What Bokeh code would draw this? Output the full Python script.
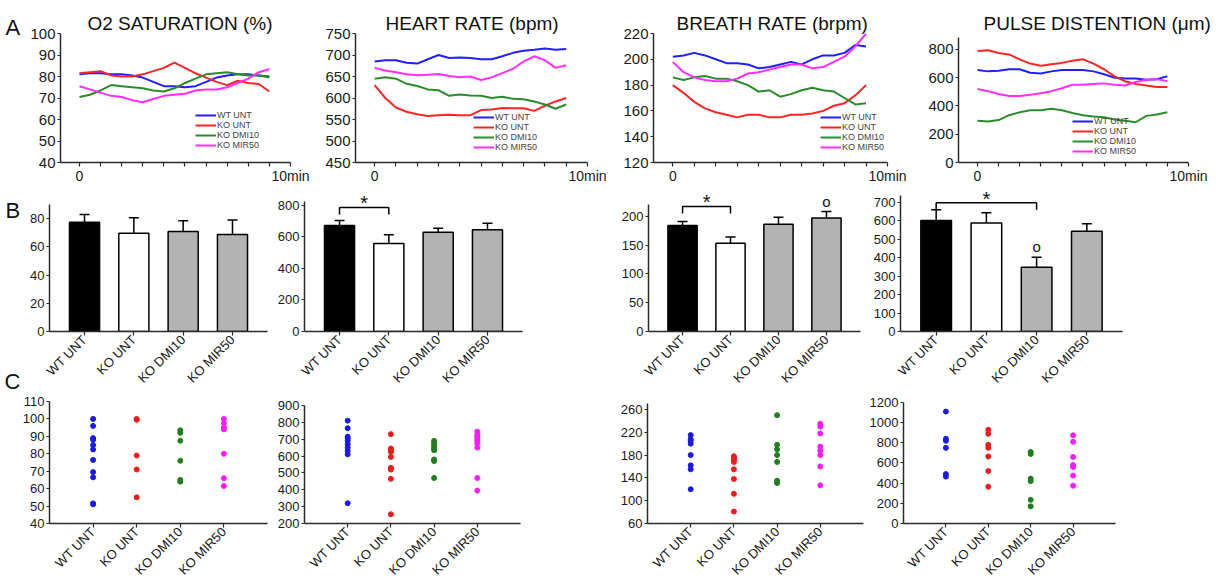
import math
from bokeh.plotting import figure
from bokeh.models import (Range1d, FixedTicker, Label, Legend, LegendItem, Whisker,
                          TeeHead, ColumnDataSource)
from bokeh.layouts import row, column
from bokeh.embed import file_html
from bokeh.resources import INLINE

# ---------------- data ----------------
groups = ["WT UNT", "KO UNT", "KO DMI10", "KO MIR50"]

time_min = [0, 0.5, 1, 1.5, 2, 2.5, 3, 3.5, 4, 4.5, 5, 5.5, 6, 6.5, 7, 7.5, 8, 8.5, 9]

# A: time courses
o2_wt = [81, 81.5, 81.5, 81, 81, 80.5, 79.5, 77.5, 75.5, 75.5, 75, 75.5, 77.5, 79.5, 80.5, 81, 81, 80.5, 80]
o2_ko = [81.5, 82, 82.5, 80.5, 80, 80, 81, 82.5, 84, 86.5, 84, 81.5, 79.5, 77.5, 76, 78, 77, 76.5, 73]
o2_dmi = [70.5, 71.5, 73.5, 76, 75.5, 75, 74.5, 73.5, 73, 74.5, 77, 79, 81, 81.5, 82, 81, 80.5, 80.5, 79.5]
o2_mir = [75.5, 74, 72.5, 71, 70.5, 69, 68, 69.5, 71, 71.5, 72, 73.5, 74, 74, 75, 77, 79, 82, 83.5]

hr_wt = [685, 688, 688, 682, 680, 690, 700, 693, 694, 693, 690, 690, 697, 705, 710, 712, 715, 712, 714]
hr_ko = [630, 600, 578, 568, 562, 558, 560, 561, 560, 560, 572, 573, 577, 576, 576, 570, 582, 592, 600]
hr_dmi = [645, 648, 645, 633, 628, 620, 618, 605, 608, 606, 605, 600, 603, 598, 597, 592, 585, 575, 585]
hr_mir = [670, 664, 660, 655, 653, 654, 656, 651, 648, 650, 642, 648, 658, 668, 685, 697, 688, 670, 676]

br_wt = [202, 203, 205, 203, 200, 197, 197, 196, 193, 194, 196, 198, 196, 200, 203, 203, 205, 211, 210]
br_ko = [180, 174, 167, 162, 159, 157, 155, 157, 157, 155, 155, 157, 157, 158, 160, 164, 166, 172, 180]
br_dmi = [186, 184, 186, 187, 185, 185, 183, 180, 175, 176, 171, 173, 176, 178, 176, 175, 170, 165, 166]
br_mir = [198, 190, 186, 184, 183, 183, 185, 189, 190, 192, 194, 196, 196, 193, 194, 198, 202, 210, 220]

pd_wt = [655, 645, 650, 660, 660, 635, 630, 645, 655, 655, 655, 645, 625, 600, 595, 595, 585, 590, 610]
pd_ko = [790, 795, 775, 765, 730, 700, 685, 695, 705, 720, 730, 700, 660, 610, 575, 555, 545, 535, 535]
pd_dmi = [295, 290, 300, 335, 355, 370, 370, 380, 370, 350, 335, 325, 320, 305, 295, 285, 330, 340, 355]
pd_mir = [520, 505, 485, 470, 470, 480, 490, 505, 525, 550, 550, 555, 560, 550, 545, 570, 585, 590, 575]

# B: means and SEM
o2_mean = [77.4, 69.6, 70.8, 68.7]
o2_sem = [5.4, 10.9, 7.6, 10.2]
hr_mean = [673, 559, 630, 646]
hr_sem = [32, 55, 26, 42]
br_mean = [184, 153, 186, 197]
br_sem = [7, 11, 12, 11]
pd_mean = [601, 588, 348, 543]
pd_sem = [58, 55, 54, 40]

# C: individual animals
o2_pts = [[100, 96, 89, 88, 85, 82.5, 76.5, 69.5, 66.5, 51.5, 51],
          [100, 99.5, 79, 71, 55],
          [93.5, 92, 87.5, 76, 65, 64],
          [100, 97.5, 95, 94, 80, 66, 61.5]]
hr_pts = [[810, 765, 715, 705, 690, 670, 650, 630, 610, 320],
          [730, 645, 635, 625, 595, 530, 520, 465, 255],
          [690, 675, 660, 645, 635, 580, 570, 470],
          [745, 725, 715, 700, 690, 675, 650, 470, 395]]
br_pts = [[215, 208, 205, 200, 180, 162, 155, 120],
          [178, 175, 172, 168, 155, 138, 112, 81],
          [250, 198, 190, 180, 168, 135, 131],
          [235, 230, 218, 195, 188, 180, 160, 127]]
pd_pts = [[1110, 840, 820, 750, 490, 465],
          [930, 890, 780, 750, 665, 520, 365],
          [710, 690, 445, 420, 235, 170],
          [875, 810, 660, 580, 560, 475, 375]]

# ---------------- style ----------------
FONT = "Liberation Sans"
series_colors = ["#1f1fff", "#ff2424", "#2a8c2a", "#ff2cff"]
dot_colors = ["#1a1ae6", "#f01c1c", "#1f7f1f", "#ff1aff"]
bar_fills = ["#000000", "#ffffff", "#b3b3b3", "#b3b3b3"]
AXC = "#2a2a2a"


def base_fig(cell, frame, xr, yr, tick_font, ybounds=None):
    cl, ct, cr, cb = cell
    fl, ft, fr, fb = frame
    p = figure(width=cr - cl, height=cb - ct,
               x_range=Range1d(*xr), y_range=Range1d(*yr),
               min_border_left=fl - cl, min_border_right=cr - fr,
               min_border_top=ft - ct, min_border_bottom=cb - fb,
               output_backend="svg", toolbar_location=None, tools="")
    p.outline_line_color = None
    p.xgrid.visible = False
    p.ygrid.visible = False
    p.background_fill_color = "white"
    p.border_fill_color = "white"
    for ax in (p.xaxis[0], p.yaxis[0]):
        ax.axis_line_width = 1.5
        ax.axis_line_color = AXC
        ax.major_tick_line_color = AXC
        ax.major_tick_line_width = 1.2
        ax.minor_tick_line_color = AXC
        ax.minor_tick_line_width = 1.2
        ax.major_tick_in = 0
        ax.major_tick_out = 3
        ax.minor_tick_in = 0
        ax.minor_tick_out = 0
        ax.major_label_text_font = FONT
        ax.major_label_text_font_size = tick_font
        ax.major_label_text_color = "#1a1a1a"
        ax.major_label_standoff = 2
    if ybounds is not None:
        p.yaxis.bounds = ybounds
    return p


def text_label(p, x, y, text, size, align="left"):
    p.add_layout(Label(x=x, y=y, text=text, text_font=FONT, text_font_size=size,
                       text_align=align, text_baseline="middle", text_color="#111111"))


def panel_a(cell, frame, yr, ybounds, yticks, title, title_off, series, legend_at):
    xr = (-0.9, 10)
    p = base_fig(cell, frame, xr, yr, "15px", ybounds)
    p.xaxis.major_label_text_font_size = "14px"
    p.title.text = title
    p.title.align = "left"
    p.title.offset = title_off
    p.title.standoff = 0
    p.title.text_font = FONT
    p.title.text_font_size = "19px"
    p.title.text_font_style = "normal"
    p.title.text_color = "#111111"
    p.yaxis.ticker = FixedTicker(ticks=yticks)
    p.xaxis.ticker = FixedTicker(ticks=[0, 10], minor_ticks=[1, 2, 3, 4, 5, 6, 7, 8, 9])
    p.xaxis.major_label_overrides = {10: "10min"}
    p.xaxis.major_tick_out = 4
    p.xaxis.minor_tick_out = 4
    p.xaxis.major_label_standoff = 1
    items = []
    for name, ys, col in zip(groups, series, series_colors):
        r = p.line(time_min, ys, line_color=col, line_width=2)
        items.append(LegendItem(label=name, renderers=[r]))
    leg = Legend(items=items, location=legend_at, padding=0, margin=0, spacing=-3,
                 label_text_font=FONT, label_text_font_size="9px", label_height=6,
                 glyph_height=6, glyph_width=21, label_standoff=1,
                 background_fill_alpha=0, border_line_alpha=0)
    p.add_layout(leg)
    return p


def panel_b(cell, frame, yr, ybounds, yticks, means, sems, sig=None, marks=()):
    xr = (-0.71, 3.71)
    p = base_fig(cell, frame, xr, yr, "13px", ybounds)
    xs = list(range(len(groups)))
    tops = [m + s for m, s in zip(means, sems)]
    src = ColumnDataSource(dict(x=xs, top=means, err=tops, fill=bar_fills))
    p.vbar(x="x", top="top", width=0.61, source=src, fill_color="fill",
           line_color="black", line_width=1.5)
    p.add_layout(Whisker(source=src, base="x", lower="top", upper="err", dimension="height",
                         line_color="black", line_width=1.5,
                         upper_head=TeeHead(size=10, line_width=1.5, line_color="black"),
                         lower_head=None))
    p.yaxis.ticker = FixedTicker(ticks=yticks)
    p.xaxis.ticker = FixedTicker(ticks=xs)
    p.xaxis.major_label_overrides = {i: g for i, g in enumerate(groups)}
    p.xaxis.major_label_orientation = math.pi / 4
    p.xaxis.major_tick_out = 4
    upp = (yr[1] - yr[0]) / (frame[3] - frame[1])
    if sig is not None:
        a, b, gap = sig
        yb = max(tops[a:b + 1]) + gap * upp
        p.line([a, a, b, b], [yb - 7 * upp, yb, yb, yb - 7 * upp],
               line_color="black", line_width=1.5)
        text_label(p, (a + b) / 2, yb + 4 * upp, "*", "20px", "center")
    for i in marks:
        text_label(p, i, tops[i] + 10.5 * upp, "o", "15px", "center")
    return p


def panel_c(cell, frame, yr, ybounds, yticks, pts):
    xr = (-1, 4)
    p = base_fig(cell, frame, xr, yr, "13px", ybounds)
    for i, (vals, col) in enumerate(zip(pts, dot_colors)):
        p.scatter([i] * len(vals), vals, size=5, marker="circle",
                  fill_color=col, line_color=col)
    p.yaxis.ticker = FixedTicker(ticks=yticks)
    p.xaxis.ticker = FixedTicker(ticks=list(range(len(groups))))
    p.xaxis.major_label_overrides = {i: g for i, g in enumerate(groups)}
    p.xaxis.major_label_orientation = math.pi / 4
    p.xaxis.major_tick_out = 4
    return p


# ---------------- row A ----------------
a1 = panel_a((22, 0, 315, 186), (60, 33, 290, 162), (40, 100), None,
             [40, 50, 60, 70, 80, 90, 100], "O2 SATURATION (%)", 27,
             [o2_wt, o2_ko, o2_dmi, o2_mir], (135, 12))
a2 = panel_a((315, 0, 612, 186), (355, 33, 587, 162), (450, 750), None,
             [450, 500, 550, 600, 650, 700, 750], "HEART RATE (bpm)", 30,
             [hr_wt, hr_ko, hr_dmi, hr_mir], (118, 10))
a3 = panel_a((612, 0, 912, 186), (653, 33, 887, 162), (120, 220), None,
             [120, 140, 160, 180, 200, 220], "BREATH RATE (brpm)", 23,
             [br_wt, br_ko, br_dmi, br_mir], (167, 10))
a4 = panel_a((912, 0, 1216, 186), (958, 33, 1188, 162), (0, 913), (0, 885),
             [0, 200, 400, 600, 800], "PULSE DISTENTION (\u03bcm)", 25,
             [pd_wt, pd_ko, pd_dmi, pd_mir], (114, 6))

# ---------------- row B ----------------
b1 = panel_b((22, 186, 270, 394), (49, 186, 267, 331), (0, 102.7), (0, 90),
             [0, 20, 40, 60, 80], o2_mean, o2_sem)
b2 = panel_b((270, 186, 600, 394), (304, 186, 522, 331), (0, 920.6), (0, 825),
             [0, 200, 400, 600, 800], hr_mean, hr_sem, sig=(0, 1, 13))
b3 = panel_b((600, 186, 870, 394), (648, 186, 860, 331), (0, 251.5), (0, 220),
             [0, 50, 100, 150, 200], br_mean, br_sem, sig=(0, 1, 15), marks=(3,))
b4 = panel_b((870, 186, 1216, 394), (900, 186, 1122, 331), (0, 785), (0, 736),
             [0, 100, 200, 300, 400, 500, 600, 700], pd_mean, pd_sem,
             sig=(0, 2, 7), marks=(2,))

# ---------------- panel letters ----------------
letters = figure(width=22, height=394, x_range=Range1d(0, 22), y_range=Range1d(394, 0),
                 min_border_left=0, min_border_right=0, min_border_top=0, min_border_bottom=0,
                 output_backend="svg", toolbar_location=None, tools="")
letters.axis.visible = False
letters.grid.visible = False
letters.outline_line_color = None
text_label(letters, 5, 27, "A", "22px")
text_label(letters, 5, 210, "B", "22px")
text_label(letters, 4, 381, "C", "22px")

# ---------------- row C ----------------
c1 = panel_c((0, 394, 270, 586), (49, 401, 267, 524), (40, 110), None,
             [40, 50, 60, 70, 80, 90, 100, 110], o2_pts)
c2 = panel_c((270, 394, 600, 586), (304, 401, 520, 524), (200, 923.5), (200, 900),
             [200, 300, 400, 500, 600, 700, 800, 900], hr_pts)
c3 = panel_c((600, 394, 866, 586), (647, 401, 863, 524), (60, 273.9), (60, 270),
             [60, 100, 140, 180, 220, 260], br_pts)
c4 = panel_c((866, 394, 1216, 586), (902, 401, 1115, 524), (0, 1209.8), (0, 1200),
             [0, 200, 400, 600, 800, 1000, 1200], pd_pts)

layout = column(row(letters, column(row(a1, a2, a3, a4), row(b1, b2, b3, b4))),
                row(c1, c2, c3, c4))

with open("out.html", "w") as f:
    f.write(file_html(layout, INLINE, title="Physiology panels"))
